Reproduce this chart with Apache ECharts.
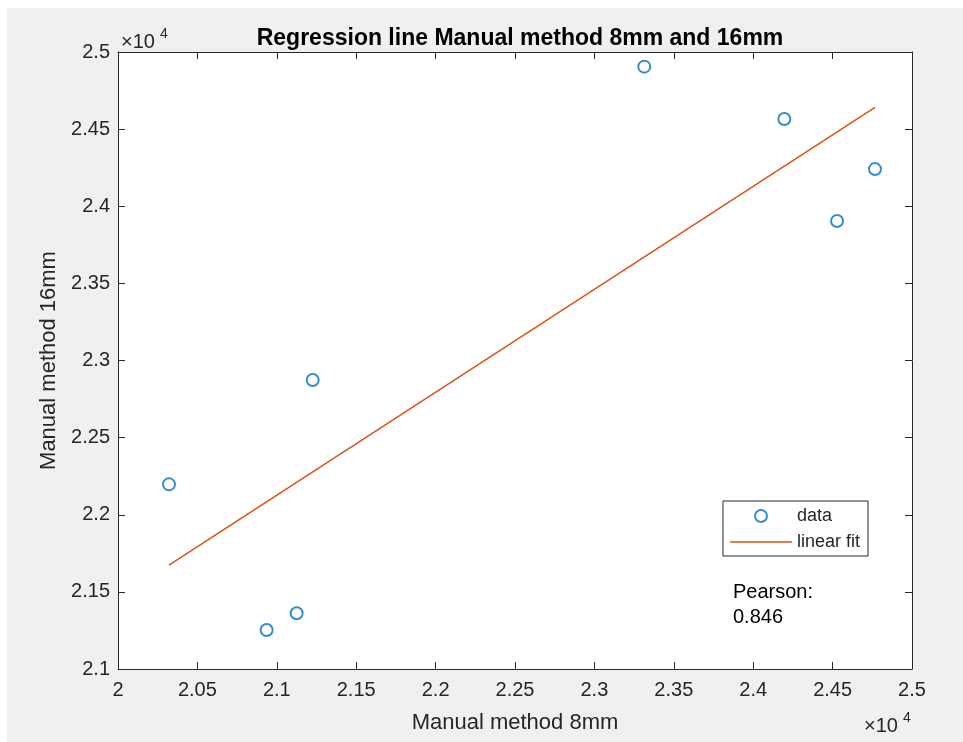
<!DOCTYPE html>
<html>
<head>
<meta charset="utf-8">
<style>
  html, body { margin: 0; padding: 0; background: #ffffff; }
  #chart { width: 963px; height: 742px; }
</style>
<script src="https://cdn.jsdelivr.net/npm/echarts@6/dist/echarts.min.js"></script>
</head>
<body>
<div id="chart"></div>
<script>
// measured values (raw units, axis shows them x 10^4)
const manual8mm  = [20321, 20936, 21125, 21226, 23314, 24196, 24528, 24767];
const manual16mm = [22197, 21253, 21361, 22874, 24905, 24566, 23904, 24241];
// regression line endpoints
const fitX = [20321, 24767];
const fitY = [21674, 24641];
const pearson = '0.846';

const FONT = 'Liberation Sans';
const INK = '#262626';

const chart = echarts.init(document.getElementById('chart'));

const scatterData = manual8mm.map(function (x, i) { return [x, manual16mm[i]]; });
const fitData = fitX.map(function (x, i) { return [x, fitY[i]]; });

const tickFmt = function (v) { return String(+(v / 10000).toFixed(2)); };

// little "x10^4" exponent marks, like matlab puts them
function expo(x, y) {
  return [
    { type: 'text', x: x, y: y, z: 10, silent: true,
      style: { text: '×10', fontFamily: FONT, fontSize: 20, fill: INK, verticalAlign: 'middle' } },
    { type: 'text', x: x + 39, y: y - 8, z: 10, silent: true,
      style: { text: '4', fontFamily: FONT, fontSize: 14, fill: INK, verticalAlign: 'middle' } }
  ];
}

chart.setOption({
  animation: false,
  backgroundColor: '#ffffff',
  title: {
    text: 'Regression line Manual method 8mm and 16mm',
    left: 515,
    textAlign: 'center',
    top: 22,
    textStyle: { fontFamily: FONT, fontSize: 23, fontWeight: 'bold', color: '#000' }
  },
  grid: { left: 118, top: 52, right: 51, bottom: 73 },
  legend: {
    orient: 'vertical',
    left: 723,
    top: 501,
    backgroundColor: '#fff',
    borderColor: INK,
    borderWidth: 1,
    borderRadius: 0,
    padding: [6, 8, 5, 7],
    itemGap: 8,
    itemWidth: 62,
    itemHeight: 12,
    textStyle: { fontFamily: FONT, fontSize: 18, color: INK },
    data: [
      { name: 'data', icon: 'emptyCircle' },
      { name: 'linear fit', icon: 'path://M0,0H62V1.5H0Z' }
    ]
  },
  xAxis: [{
    type: 'value', min: 20000, max: 25000, interval: 500,
    name: 'Manual method 8mm', nameLocation: 'middle', nameGap: 43,
    nameTextStyle: { fontFamily: FONT, fontSize: 22, color: INK },
    axisLine: { lineStyle: { color: INK, width: 1 } },
    axisTick: { inside: true, length: 7, lineStyle: { color: INK } },
    axisLabel: { formatter: tickFmt, fontFamily: FONT, fontSize: 20, color: INK, margin: 11 },
    splitLine: { show: false }
  }, {
    type: 'value', position: 'top', min: 20000, max: 25000, interval: 500,
    axisLine: { show: true, lineStyle: { color: INK, width: 1 } },
    axisTick: { show: true, inside: true, length: 7, lineStyle: { color: INK } },
    axisLabel: { show: false },
    splitLine: { show: false }
  }],
  yAxis: [{
    type: 'value', min: 21000, max: 25000, interval: 500,
    name: 'Manual method 16mm', nameLocation: 'middle', nameGap: 57,
    nameTextStyle: { fontFamily: FONT, fontSize: 22, color: INK },
    axisLine: { show: true, lineStyle: { color: INK, width: 1 } },
    axisTick: { show: true, inside: true, length: 7, lineStyle: { color: INK } },
    axisLabel: { formatter: tickFmt, fontFamily: FONT, fontSize: 20, color: INK, margin: 8 },
    splitLine: { show: false }
  }, {
    type: 'value', position: 'right', min: 21000, max: 25000, interval: 500,
    axisLine: { show: true, lineStyle: { color: INK, width: 1 } },
    axisTick: { show: true, inside: true, length: 7, lineStyle: { color: INK } },
    axisLabel: { show: false },
    splitLine: { show: false }
  }],
  graphic: [
    { type: 'rect', z: -10, silent: true, shape: { x: 7, y: 8, width: 956, height: 734 },
      style: { fill: '#f0f0f0' } },
    { type: 'rect', z: -9, silent: true, shape: { x: 118, y: 52, width: 794, height: 617 },
      style: { fill: '#ffffff' } },
    { type: 'text', x: 733, y: 580, z: 10, silent: true,
      style: { text: 'Pearson:\n' + pearson, fontFamily: FONT, fontSize: 20, lineHeight: 25, fill: '#000' } }
  ].concat(expo(121, 42), expo(864, 726)),
  series: [{
    name: 'data',
    type: 'scatter',
    xAxisIndex: 0, yAxisIndex: 0,
    symbol: 'emptyCircle',
    symbolSize: 12,
    itemStyle: { color: '#0072BD', borderColor: '#0072BD', borderWidth: 1.5 },
    data: scatterData
  }, {
    name: 'linear fit',
    type: 'line',
    xAxisIndex: 0, yAxisIndex: 0,
    showSymbol: false,
    symbol: 'none',
    lineStyle: { color: '#D95319', width: 1.5 },
    itemStyle: { color: '#D95319' },
    data: fitData
  }]
});
</script>
</body>
</html>
